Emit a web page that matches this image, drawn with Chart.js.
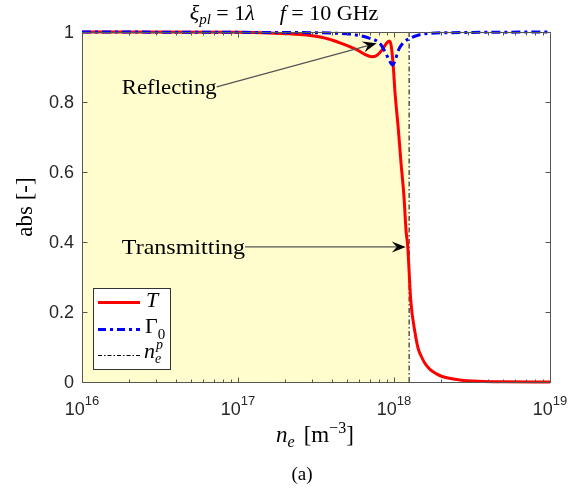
<!DOCTYPE html>
<html>
<head>
<meta charset="utf-8">
<script src="https://cdn.jsdelivr.net/npm/chart.js@4.4.1/dist/chart.umd.min.js"></script>
<style>
  html, body { margin: 0; padding: 0; background: #fff; }
  canvas { display: block; }
</style>
</head>
<body>
<canvas id="chart" width="583" height="492" style="width:583px;height:492px"></canvas>
<script>
// ---- data ----
// transmission T
const neT = [1e16, 1e17, 1.6e17, 2.5e17, 3.0e17, 3.8e17, 4.5e17, 5.8e17, 6.5e17, 7.2e17, 7.7e17,
  8.4e17, 8.95e17, 9.33e17, 9.6e17, 9.9e17, 1.014e18, 1.067e18, 1.109e18, 1.159e18, 1.194e18,
  1.225e18, 1.28e18, 1.365e18, 1.43e18, 1.49e18, 1.57e18, 1.7e18, 1.86e18, 2.06e18, 2.65e18,
  3.5e18, 5e18, 1e19];
const valT = [1.0, 0.999, 0.997, 0.993, 0.989, 0.98, 0.969, 0.949, 0.936, 0.929, 0.932,
  0.949, 0.968, 0.974, 0.96, 0.90, 0.83, 0.72, 0.626, 0.529, 0.434,
  0.387, 0.234, 0.14, 0.095, 0.075, 0.055, 0.036, 0.024, 0.015, 0.006,
  0.002, 0.0005, 0];
// reflection Gamma_0
const neG = [1e16, 1e17, 3e17, 4.5e17, 5.8e17, 7.0e17, 7.9e17, 8.3e17, 8.75e17, 9.3e17, 9.76e17,
  1.02e18, 1.06e18, 1.14e18, 1.27e18, 1.53e18, 2.3e18, 1e19];
const valG = [1.0, 0.999, 0.998, 0.996, 0.991, 0.982, 0.972, 0.962, 0.944, 0.92, 0.906,
  0.92, 0.945, 0.968, 0.982, 0.994, 0.998, 1.0];
// critical density n_e^p and shaded region start
const nep = 1.25e18;
const shadeFrom = 1e16;

const xMajor = [1e16, 1e17, 1e18, 1e19];
const xMajorExp = ['16', '17', '18', '19'];
const yTicks = [0, 0.2, 0.4, 0.6, 0.8, 1];
const yTickLabels = ['0', '0.2', '0.4', '0.6', '0.8', '1'];

// annotation arrows: text anchor (left, middle), arrow start, arrow tip (data units)
const notes = [
  { text: 'Reflecting', x: 1.8e16, y: 0.843, fromX: 7.3e16, fromY: 0.843, toX: 7.74e17, toY: 0.968 },
  { text: 'Transmitting', x: 1.8e16, y: 0.386, fromX: 1.11e17, fromY: 0.386, toX: 1.19e18, toY: 0.386 }
];

const serif = '"Liberation Serif", "Times New Roman", serif';
const sans = '"Liberation Sans", Arial, sans-serif';
const axisColor = '#262626';

function toXY(xs, ys) {
  return xs.map((x, i) => ({ x: x, y: ys[i] }));
}

function rich(ctx, parts, x, y, align) {
  let w = 0;
  parts.forEach(p => {
    ctx.font = p.f;
    p.w = ctx.measureText(p.t).width;
    w += p.w + (p.gap || 0);
  });
  let cx = align === 'center' ? x - w / 2 : (align === 'right' ? x - w : x);
  ctx.textAlign = 'left';
  parts.forEach(p => {
    ctx.font = p.f;
    ctx.fillText(p.t, cx, y + (p.dy || 0));
    cx += p.w + (p.gap || 0);
  });
  return w;
}

function seg(ctx, x1, y1, x2, y2) {
  ctx.beginPath();
  ctx.moveTo(x1, y1);
  ctx.lineTo(x2, y2);
  ctx.stroke();
}

function arrow(ctx, x1, y1, x2, y2) {
  const ang = Math.atan2(y2 - y1, x2 - x1);
  const len = 14, half = 5.5, notch = 9;
  const bx = x2 - Math.cos(ang) * notch, by = y2 - Math.sin(ang) * notch;
  ctx.strokeStyle = '#555';
  ctx.lineWidth = 1.2;
  seg(ctx, x1, y1, bx, by);
  ctx.fillStyle = '#000';
  ctx.beginPath();
  ctx.moveTo(x2, y2);
  ctx.lineTo(x2 - Math.cos(ang) * len - Math.sin(ang) * half, y2 - Math.sin(ang) * len + Math.cos(ang) * half);
  ctx.lineTo(bx, by);
  ctx.lineTo(x2 - Math.cos(ang) * len + Math.sin(ang) * half, y2 - Math.sin(ang) * len - Math.cos(ang) * half);
  ctx.closePath();
  ctx.fill();
}

const deco = {
  id: 'deco',
  afterDatasetsDraw(chart) {
    const ctx = chart.ctx, a = chart.chartArea;
    const xs = chart.scales.x, ys = chart.scales.y;
    const L = Math.round(a.left) + 0.5, R = Math.round(a.right) + 0.5;
    const T = Math.round(a.top) + 0.5, B = Math.round(a.bottom) + 0.5;
    ctx.save();

    // axes box
    ctx.strokeStyle = '#555';
    ctx.lineWidth = 1;
    ctx.strokeRect(L, T, R - L, B - T);

    // x ticks (inward, top and bottom)
    xMajor.forEach((v, i) => {
      for (let m = 1; m <= 9; m++) {
        if (i === xMajor.length - 1 && m > 1) break;
        const px = Math.round(xs.getPixelForValue(v * m)) + 0.5;
        const len = m === 1 ? 5 : 3;
        seg(ctx, px, B, px, B - len);
        seg(ctx, px, T, px, T + len);
      }
    });
    // y ticks
    yTicks.forEach(v => {
      const py = Math.round(ys.getPixelForValue(v)) + 0.5;
      seg(ctx, L, py, L + 5, py);
      seg(ctx, R, py, R - 5, py);
    });

    // tick labels
    ctx.fillStyle = axisColor;
    ctx.font = '18px ' + sans;
    ctx.textAlign = 'right';
    ctx.textBaseline = 'middle';
    yTicks.forEach((v, i) => {
      ctx.fillText(yTickLabels[i], a.left - 8, ys.getPixelForValue(v) + 1);
    });
    ctx.textBaseline = 'alphabetic';
    xMajor.forEach((v, i) => {
      rich(ctx, [
        { t: '10', f: '18px ' + sans },
        { t: xMajorExp[i], f: '13px ' + sans, dy: -10 }
      ], xs.getPixelForValue(v), a.bottom + 33, 'center');
    });

    // annotations (text stretched to reach the arrow tail)
    ctx.fillStyle = '#000';
    notes.forEach(n => {
      const tx = xs.getPixelForValue(n.x), ty = ys.getPixelForValue(n.y);
      const fx = xs.getPixelForValue(n.fromX);
      ctx.font = '22px ' + serif;
      const w = ctx.measureText(n.text).width;
      ctx.save();
      ctx.translate(tx, ty + 1);
      ctx.scale((fx - tx) / w, 1);
      ctx.textAlign = 'left';
      ctx.textBaseline = 'middle';
      ctx.fillText(n.text, 0, 0);
      ctx.restore();
      arrow(ctx, fx, ys.getPixelForValue(n.fromY),
        xs.getPixelForValue(n.toX), ys.getPixelForValue(n.toY));
    });
    ctx.textBaseline = 'alphabetic';

    // legend
    const lx = 93.5, ly = 288.5, lw = 77, lh = 81;
    ctx.fillStyle = '#fff';
    ctx.fillRect(lx, ly, lw, lh);
    ctx.strokeStyle = '#333';
    ctx.lineWidth = 1;
    ctx.strokeRect(lx, ly, lw, lh);
    const rows = [
      { y: 302.5, color: '#ff0000', w: 3, dash: [] },
      { y: 329.5, color: '#0000ff', w: 3, dash: [8, 4, 3, 4] },
      { y: 355.5, color: '#000', w: 1, dash: [4, 2, 1.5, 2] }
    ];
    rows.forEach(r => {
      ctx.strokeStyle = r.color;
      ctx.lineWidth = r.w;
      ctx.setLineDash(r.dash);
      seg(ctx, 98, r.y, 140, r.y);
    });
    ctx.setLineDash([]);
    ctx.fillStyle = '#000';
    rich(ctx, [{ t: 'T', f: 'italic 22px ' + serif }], 146, 307, 'left');
    rich(ctx, [
      { t: 'Γ', f: '22px ' + serif },
      { t: '0', f: '15px ' + serif, dy: 6 }
    ], 145, 333, 'left');
    rich(ctx, [
      { t: 'n', f: 'italic 22px ' + serif },
      { t: 'e', f: 'italic 14px ' + serif, dy: 5 }
    ], 144, 358, 'left');
    ctx.font = 'italic 14px ' + serif;
    ctx.fillText('p', 156, 349);

    // title
    rich(ctx, [
      { t: 'ξ', f: 'italic 22px ' + serif },
      { t: 'pl', f: 'italic 15px ' + serif, dy: 4 },
      { t: ' = 1', f: '22px ' + serif },
      { t: 'λ', f: 'italic 22px ' + serif, gap: 25 },
      { t: 'f', f: 'italic 22px ' + serif },
      { t: ' = 10 GHz', f: '22px ' + serif }
    ], 284, 20, 'center');

    // x label
    rich(ctx, [
      { t: 'n', f: 'italic 23px ' + serif },
      { t: 'e', f: 'italic 16px ' + serif, dy: 5, gap: 9 },
      { t: '[m', f: '23px ' + serif },
      { t: '−3', f: '16px ' + serif, dy: -9 },
      { t: ']', f: '23px ' + serif }
    ], 315, 442, 'center');

    // y label
    ctx.save();
    ctx.translate(32, 207);
    ctx.rotate(-Math.PI / 2);
    ctx.font = '23px ' + serif;
    ctx.textAlign = 'center';
    ctx.fillText('abs [-]', 0, 0);
    ctx.restore();

    // sub caption
    ctx.font = '19px ' + serif;
    ctx.textAlign = 'center';
    ctx.fillText('(a)', 302, 480);

    ctx.restore();
  }
};

new Chart(document.getElementById('chart'), {
  type: 'line',
  data: {
    datasets: [
      {
        label: 'shade',
        data: [{ x: shadeFrom, y: 1 }, { x: nep, y: 1 }],
        fill: 'origin',
        backgroundColor: 'rgb(255,253,206)',
        borderWidth: 0,
        pointRadius: 0,
        order: 4
      },
      {
        label: 'n_e^p',
        data: [{ x: nep, y: 0 }, { x: nep, y: 1 }],
        borderColor: '#000',
        borderWidth: 1,
        borderDash: [5, 2.5, 1.5, 2.5],
        pointRadius: 0,
        order: 3
      },
      {
        label: 'T',
        data: toXY(neT, valT),
        borderColor: '#ff0000',
        borderWidth: 3,
        cubicInterpolationMode: 'monotone',
        pointRadius: 0,
        clip: false,
        order: 2
      },
      {
        label: 'Gamma_0',
        data: toXY(neG, valG),
        borderColor: '#0000ff',
        borderWidth: 3,
        borderDash: [9, 4, 3, 4],
        cubicInterpolationMode: 'monotone',
        pointRadius: 0,
        clip: false,
        order: 1
      }
    ]
  },
  options: {
    responsive: false,
    animation: false,
    layout: { padding: { left: 82, right: 33, top: 32, bottom: 110 } },
    plugins: { legend: { display: false }, tooltip: { enabled: false } },
    scales: {
      x: { type: 'logarithmic', min: 1e16, max: 1e19, display: false },
      y: { type: 'linear', min: 0, max: 1, display: false }
    }
  },
  plugins: [deco]
});
</script>
</body>
</html>
